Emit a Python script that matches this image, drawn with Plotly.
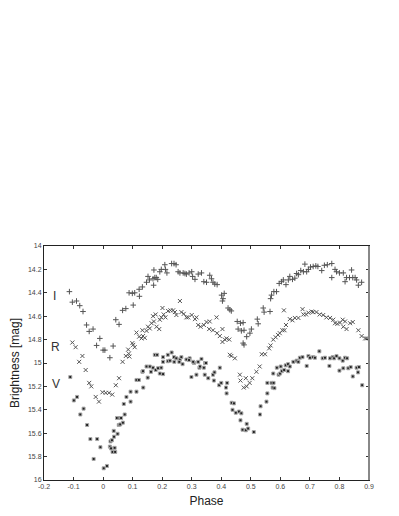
import plotly.graph_objects as go

# light curves: (phase, magnitude)
phase_I = [-0.114, -0.104, -0.09, -0.079, -0.068, -0.056, -0.047, -0.034, -0.022, -0.011,
           0.0, 0.006, 0.023, 0.034, 0.043, 0.054, 0.066, 0.077, 0.088, 0.099,
           0.107, 0.102, 0.122, 0.123, 0.133, 0.147, 0.152, 0.157, 0.169, 0.171,
           0.175, 0.18, 0.185, 0.172, 0.192, 0.197, 0.209, 0.211, 0.216, 0.232,
           0.24, 0.247, 0.254, 0.26, 0.271, 0.277, 0.282, 0.291, 0.30, 0.303,
           0.311, 0.322, 0.333, 0.341, 0.35, 0.361, 0.367, 0.372, 0.378, 0.386,
           0.401, 0.406, 0.404, 0.41, 0.423, 0.429, 0.434, 0.454, 0.465, 0.474,
           0.457, 0.468, 0.477, 0.474, 0.477, 0.486, 0.497, 0.502, 0.522, 0.525,
           0.542, 0.545, 0.565, 0.567, 0.57, 0.578, 0.587, 0.596, 0.604, 0.61,
           0.619, 0.627, 0.632, 0.641, 0.649, 0.655, 0.661, 0.669, 0.678, 0.683,
           0.689, 0.695, 0.702, 0.711, 0.72, 0.727, 0.74, 0.749, 0.759, 0.774,
           0.774, 0.785, 0.79, 0.80, 0.813, 0.819, 0.824, 0.834, 0.841, 0.845,
           0.853, 0.858, 0.864, 0.875]
mag_I = [14.39, 14.48, 14.47, 14.51, 14.56, 14.675, 14.73, 14.71, 14.85, 14.79,
         14.89, 14.89, 14.955, 14.855, 14.63, 14.67, 14.55, 14.535, 14.40, 14.405,
         14.40, 14.505, 14.37, 14.43, 14.35, 14.31, 14.26, 14.29, 14.28, 14.335,
         14.27, 14.27, 14.285, 14.205, 14.22, 14.20, 14.16, 14.20, 14.23, 14.15,
         14.15, 14.16, 14.22, 14.23, 14.23, 14.235, 14.24, 14.23, 14.22, 14.26,
         14.285, 14.24, 14.23, 14.305, 14.31, 14.25, 14.28, 14.31, 14.325, 14.33,
         14.42, 14.45, 14.47, 14.405, 14.53, 14.545, 14.555, 14.645, 14.66, 14.655,
         14.71, 14.725, 14.72, 14.83, 14.845, 14.775, 14.745, 14.71, 14.625, 14.665,
         14.53, 14.565, 14.56, 14.45, 14.42, 14.39, 14.39, 14.32, 14.305, 14.29,
         14.33, 14.29, 14.26, 14.285, 14.275, 14.235, 14.245, 14.21, 14.22, 14.155,
         14.22, 14.20, 14.18, 14.175, 14.17, 14.175, 14.21, 14.165, 14.16, 14.15,
         14.27, 14.20, 14.22, 14.23, 14.23, 14.305, 14.27, 14.27, 14.205, 14.27,
         14.27, 14.29, 14.335, 14.31]

phase_R = [-0.104, -0.093, -0.081, -0.07, -0.059, -0.047, -0.04, -0.025, -0.014, -0.002,
           0.009, 0.02, 0.031, 0.043, 0.054, 0.066, 0.077, 0.085, 0.087, 0.089,
           0.099, 0.102, 0.107, 0.113, 0.122, 0.13, 0.135, 0.141, 0.133, 0.147,
           0.152, 0.158, 0.164, 0.172, 0.181, 0.19, 0.169, 0.178, 0.192, 0.197,
           0.205, 0.211, 0.201, 0.22, 0.228, 0.237, 0.243, 0.248, 0.26, 0.265,
           0.273, 0.282, 0.288, 0.30, 0.311, 0.316, 0.322, 0.33, 0.341, 0.35,
           0.361, 0.359, 0.372, 0.384, 0.386, 0.395, 0.404, 0.412, 0.418, 0.427,
           0.404, 0.429, 0.434, 0.446, 0.463, 0.465, 0.476, 0.483, 0.486, 0.496,
           0.505, 0.519, 0.53, 0.537, 0.548, 0.562, 0.567, 0.576, 0.584, 0.592,
           0.598, 0.607, 0.612, 0.614, 0.619, 0.632, 0.641, 0.649, 0.661, 0.675,
           0.678, 0.687, 0.695, 0.706, 0.711, 0.722, 0.733, 0.745, 0.756, 0.768,
           0.779, 0.785, 0.793, 0.802, 0.811, 0.813, 0.819, 0.824, 0.836, 0.845,
           0.864, 0.875, 0.887, 0.893]
mag_R = [14.825, 14.865, 14.99, 14.94, 15.06, 15.17, 15.2, 15.29, 15.33, 15.25,
         15.255, 15.255, 15.27, 15.19, 15.13, 14.99, 14.94, 14.885, 14.92, 14.945,
         14.83, 14.845, 14.865, 14.74, 14.775, 14.79, 14.77, 14.785, 14.72, 14.725,
         14.69, 14.705, 14.66, 14.645, 14.69, 14.71, 14.60, 14.585, 14.63, 14.61,
         14.585, 14.61, 14.53, 14.555, 14.55, 14.55, 14.565, 14.59, 14.47, 14.565,
         14.58, 14.61, 14.61, 14.59, 14.625, 14.61, 14.675, 14.69, 14.675, 14.65,
         14.645, 14.71, 14.72, 14.61, 14.745, 14.77, 14.71, 14.80, 14.79, 14.80,
         14.82, 14.93, 14.94, 14.96, 15.10, 15.15, 15.21, 15.13, 15.20, 15.17,
         15.13, 15.075, 15.03, 14.925, 14.925, 14.875, 14.85, 14.80, 14.78, 14.76,
         14.745, 14.72, 14.55, 14.72, 14.675, 14.625, 14.635, 14.615, 14.615, 14.54,
         14.585, 14.585, 14.57, 14.56, 14.565, 14.565, 14.585, 14.59, 14.61, 14.615,
         14.63, 14.66, 14.665, 14.655, 14.63, 14.69, 14.645, 14.71, 14.66, 14.65,
         14.72, 14.77, 14.79, 14.79]

phase_V = [-0.111, -0.099, -0.088, -0.077, -0.066, -0.054, -0.043, -0.02, -0.032, -0.009,
           0.002, 0.013, 0.023, 0.025, 0.027, 0.032, 0.03, 0.037, 0.039, 0.041,
           0.036, 0.049, 0.047, 0.056, 0.061, 0.053, 0.058, 0.067, 0.07, 0.073,
           0.079, 0.093, 0.093, 0.113, 0.113, 0.121, 0.136, 0.133, 0.151, 0.162,
           0.203, 0.147, 0.158, 0.169, 0.178, 0.186, 0.197, 0.135, 0.192, 0.175,
           0.183, 0.203, 0.219, 0.232, 0.24, 0.248, 0.26, 0.265, 0.282, 0.293,
           0.308, 0.333, 0.345, 0.219, 0.203, 0.226, 0.241, 0.258, 0.269, 0.291,
           0.299, 0.316, 0.322, 0.326, 0.305, 0.348, 0.328, 0.341, 0.356, 0.344,
           0.372, 0.377, 0.375, 0.395, 0.393, 0.40, 0.416, 0.42, 0.418, 0.435,
           0.443, 0.438, 0.449, 0.46, 0.468, 0.465, 0.486, 0.472, 0.483, 0.491,
           0.51, 0.531, 0.533, 0.553, 0.556, 0.556, 0.57, 0.574, 0.577, 0.58,
           0.576, 0.588, 0.594, 0.599, 0.605, 0.601, 0.613, 0.618, 0.626, 0.626,
           0.632, 0.644, 0.655, 0.661, 0.666, 0.675, 0.689, 0.695, 0.70, 0.711,
           0.717, 0.732, 0.743, 0.751, 0.766, 0.768, 0.777, 0.782, 0.79, 0.80,
           0.811, 0.819, 0.826, 0.80, 0.813, 0.83, 0.838, 0.845, 0.858, 0.866,
           0.863, 0.877]
mag_V = [15.12, 15.32, 15.29, 15.44, 15.39, 15.53, 15.65, 15.65, 15.82, 15.72,
         15.90, 15.88, 15.715, 15.67, 15.73, 15.76, 15.66, 15.63, 15.725, 15.76,
         15.58, 15.605, 15.47, 15.47, 15.47, 15.53, 15.525, 15.51, 15.35, 15.44,
         15.29, 15.245, 15.33, 15.145, 15.245, 15.145, 15.21, 15.075, 15.125, 15.075,
         15.095, 15.03, 15.03, 15.04, 15.06, 15.045, 15.04, 15.07, 15.09, 14.93,
         14.93, 14.95, 14.93, 14.91, 14.95, 14.96, 14.97, 14.95, 14.97, 14.96,
         15.0, 14.965, 15.0, 14.985, 14.99, 14.98, 14.99, 14.99, 15.01, 14.975,
         15.12, 15.10, 14.99, 15.04, 14.99, 15.0, 15.03, 15.04, 15.13, 15.10,
         15.10, 15.08, 15.15, 15.04, 15.19, 15.17, 15.21, 15.17, 15.26, 15.34,
         15.345, 15.40, 15.425, 15.415, 15.43, 15.49, 15.52, 15.57, 15.575, 15.56,
         15.59, 15.44, 15.37, 15.33, 15.26, 15.17, 15.17, 15.21, 15.17, 15.215,
         15.09, 15.04, 15.10, 15.09, 15.07, 15.03, 15.06, 15.02, 15.01, 15.07,
         15.03, 14.99, 14.98, 14.99, 14.955, 14.95, 15.025, 14.94, 14.955, 14.95,
         14.955, 14.90, 14.96, 14.955, 15.025, 14.96, 14.95, 14.96, 14.94, 14.96,
         14.98, 14.955, 14.96, 15.065, 15.045, 15.045, 15.035, 15.115, 15.04, 15.035,
         15.08, 15.19]

band_names = ["I", "R", "V"]
band_label_pos = [(-0.163, 14.43), (-0.16, 14.86), (-0.16, 15.18)]

x_ticks = [-0.2, -0.1, 0, 0.1, 0.2, 0.3, 0.4, 0.5, 0.6, 0.7, 0.8, 0.9]
x_tick_text = ["-0.2", "-0.1", "0", "0.1", "0.2", "0.3", "0.4", "0.5", "0.6", "0.7", "0.8", "0.9"]
y_ticks = [14, 14.2, 14.4, 14.6, 14.8, 15, 15.2, 15.4, 15.6, 15.8, 16]
y_tick_text = ["14", "14.2", "14.4", "14.6", "14.8", "15", "15.2", "15.4", "15.6", "15.8", "16"]

fig = go.Figure()

fig.add_trace(go.Scatter(
    x=phase_I, y=mag_I, mode="markers", name="I",
    marker=dict(symbol="cross-thin", size=4, line=dict(color="#555555", width=1)),
))
fig.add_trace(go.Scatter(
    x=phase_R, y=mag_R, mode="markers", name="R",
    marker=dict(symbol="x-thin", size=4, line=dict(color="#555555", width=1)),
))
fig.add_trace(go.Scatter(
    x=phase_V, y=mag_V, mode="markers", name="V",
    marker=dict(symbol="square", size=3, color="#222222", line=dict(color="#aaaaaa", width=1)),
))

for name, (px_, py_) in zip(band_names, band_label_pos):
    fig.add_annotation(x=px_, y=py_, text=name, showarrow=False,
                       font=dict(size=12, color="#333333"))

# gray right border like the original
fig.add_shape(type="line", xref="paper", yref="paper", x0=1, x1=1, y0=0, y1=1,
              line=dict(color="#888888", width=2))

# page body adds an 8px margin, so the figure is a little smaller than the window
fig.update_layout(
    width=391, height=500,
    margin=dict(l=36, r=30, t=238, b=28),
    paper_bgcolor="white", plot_bgcolor="white",
    showlegend=False,
    font=dict(family="Liberation Sans, Arial, sans-serif", color="#333333"),
)
fig.update_xaxes(
    range=[-0.2, 0.9], tickvals=x_ticks, ticktext=x_tick_text,
    ticks="inside", ticklen=3, tickcolor="#333333",
    showline=True, linecolor="#222222", linewidth=1, mirror="ticks",
    showgrid=False, zeroline=False, automargin=False,
    tickfont=dict(size=7, color="#444444"),
    title=dict(text="Phase", font=dict(size=12, color="#222222")),
)
fig.update_yaxes(
    range=[16, 14], tickvals=y_ticks, ticktext=y_tick_text,
    ticks="inside", ticklen=3, tickcolor="#333333",
    showline=True, linecolor="#222222", linewidth=1, mirror="ticks",
    showgrid=False, zeroline=False, automargin=False,
    tickfont=dict(size=7, color="#444444"),
    title=dict(text="Brightness [mag]", font=dict(size=12, color="#222222")),
)

fig.write_html("out.html")
